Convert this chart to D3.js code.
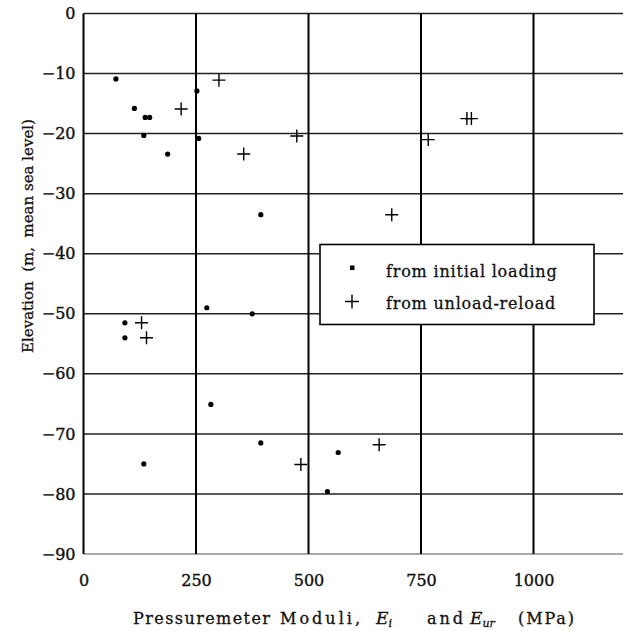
<!DOCTYPE html>
<meta charset="utf-8">
<html>
  <head>
    <title>Pressuremeter moduli vs elevation</title>
    <script src="https://d3js.org/d3.v7.min.js"></script>
    <style>
      body{margin:0;background:#fff;}
      text{font-family:"DejaVu Serif",serif;fill:#111;}
    </style>
  </head>
  <body>
    <div id="chart"></div>
  <script>
    var width=623,
        height=631;

    // data: modulus (MPa), elevation (m)
    var initialModulus=[72,113,137,147,134,187,252,256,394,274,375,92,92,283,394,134,566,542];
    var initialElevation=[-10.9,-15.8,-17.3,-17.3,-20.3,-23.4,-12.9,-20.8,-33.5,-49,-50,-51.5,-54,-65.1,-71.5,-75,-73.1,-79.6];
    var reloadModulus=[301,217,356,474,852,862,766,685,129,140,483,657];
    var reloadElevation=[-11.1,-15.9,-23.4,-20.4,-17.5,-17.5,-21,-33.5,-51.5,-54,-75.1,-71.8];

    var xTicks=[0,250,500,750,1000];
    var yTicks=[0,-10,-20,-30,-40,-50,-60,-70,-80,-90];
    var legendLabels=["from initial loading","from unload-reload"];

    var x=d3.scaleLinear().domain([0,1200]).range([83.5,623.5]);
    var y=d3.scaleLinear().domain([-90,0]).range([554,13.5]);

    var svg=d3.select("#chart").append("svg")
        .attr("width",width)
        .attr("height",height);

    //grid lines
    var grid=svg.append("g");
    grid.selectAll(".hline")
      .data(yTicks).enter().append("line")
      .attr("x1",x(0)).attr("x2",x(1200))
      .attr("y1",function(d){return y(d)}).attr("y2",function(d){return y(d)})
      .attr("stroke",function(d){return d==-90?"#555":"#222"})
      .attr("stroke-width",function(d){return d==-90?1:1.5});
    grid.selectAll(".vline")
      .data(xTicks).enter().append("line")
      .attr("x1",function(d){return x(d)}).attr("x2",function(d){return x(d)})
      .attr("y1",y(0)).attr("y2",y(-90))
      .attr("stroke","#000")
      .attr("stroke-width",2);

    //axes (labels only)
    var fmt=function(d){return d<0?"\u2212"+Math.abs(d):""+d};
    svg.append("g")
      .attr("transform","translate("+x(0)+",0)")
      .call(d3.axisLeft(y).tickValues(yTicks).tickSize(0).tickPadding(8).tickFormat(fmt));
    svg.append("g")
      .attr("transform","translate(0,"+y(-90)+")")
      .call(d3.axisBottom(x).tickValues(xTicks).tickSize(0).tickPadding(21).tickFormat(fmt));
    svg.selectAll(".domain").remove();
    svg.selectAll(".tick text")
      .style("font-family","'DejaVu Serif',serif")
      .style("font-size","16px")
      .attr("fill","#111")
      .attr("stroke","#111")
      .attr("stroke-width",0.4);

    //x title, pieces placed where they sit in the original
    var titleParts=[
      {t:"Pressuremeter",x:133,len:137},
      {t:"Moduli,",x:280,len:80},
      {t:"and",x:427,len:36},
      {t:"(MPa)",x:518,len:56}
    ];
    var xt=svg.append("g");
    xt.selectAll("text.part")
      .data(titleParts).enter().append("text")
      .attr("x",function(d){return d.x})
      .attr("y",624)
      .attr("textLength",function(d){return d.len})
      .attr("lengthAdjust","spacing")
      .style("font-size","16px")
      .attr("stroke","#111").attr("stroke-width",0.3)
      .text(function(d){return d.t});
    var e1=xt.append("text").attr("x",376).attr("y",624)
      .style("font-size","17px").style("font-style","italic")
      .attr("stroke","#111").attr("stroke-width",0.3);
    e1.append("tspan").text("E");
    e1.append("tspan").text("i").style("font-size","11px").attr("dy",3);
    var e2=xt.append("text").attr("x",470).attr("y",624)
      .style("font-size","17px").style("font-style","italic")
      .attr("stroke","#111").attr("stroke-width",0.3);
    e2.append("tspan").text("E");
    e2.append("tspan").text("ur").style("font-size","11px").attr("dy",3);

    svg.append("text")
      .attr("transform","translate(33,236) rotate(-90)")
      .attr("text-anchor","middle")
      .style("font-size","15px")
      .style("white-space","pre")
      .attr("stroke","#111").attr("stroke-width",0.3)
      .text("Elevation  (m,  mean sea level)");

    //points
    var initial=initialModulus.map(function(d,i){return [d,initialElevation[i]]});
    var reload=reloadModulus.map(function(d,i){return [d,reloadElevation[i]]});

    svg.append("g").selectAll("circle")
      .data(initial).enter().append("circle")
      .attr("cx",function(d){return x(d[0])})
      .attr("cy",function(d){return y(d[1])})
      .attr("r",2.6)
      .attr("fill","#000");

    svg.append("g").selectAll("path")
      .data(reload).enter().append("path")
      .attr("d",function(d){
        var cx=x(d[0]),cy=y(d[1]),s=6.5;
        return "M"+(cx-s)+","+cy+"H"+(cx+s)+"M"+cx+","+(cy-s)+"V"+(cy+s);
      })
      .attr("stroke","#000")
      .attr("stroke-width",1.4)
      .attr("fill","none");

    //legend
    var legend=svg.append("g").attr("transform","translate(320,244.5)");
    legend.append("rect")
      .attr("width",274).attr("height",80)
      .attr("fill","#fff").attr("stroke","#000").attr("stroke-width",1.6);
    legend.append("rect")
      .attr("x",30).attr("y",21).attr("width",4.5).attr("height",4.5).attr("fill","#000");
    legend.append("path")
      .attr("d","M25,57H39M32,50V64")
      .attr("stroke","#000").attr("stroke-width",1.4);
    legend.selectAll(".lt")
      .data(legendLabels).enter().append("text")
      .attr("x",66)
      .attr("y",function(d,i){return 32+i*32.5})
      .style("font-size","16px")
      .style("letter-spacing","0.8px")
      .attr("stroke","#111").attr("stroke-width",0.3)
      .text(function(d){return d});
  </script>
  </body>
</html>
